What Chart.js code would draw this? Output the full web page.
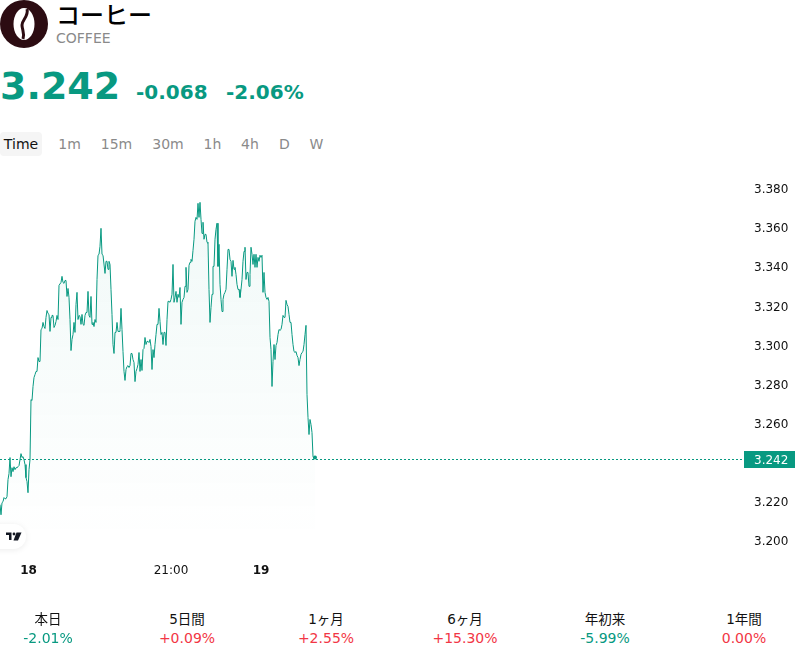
<!DOCTYPE html>
<html><head><meta charset="utf-8">
<script src="https://cdn.jsdelivr.net/npm/chart.js@4"></script>
<style>
html,body{margin:0;padding:0;background:#fff;width:800px;height:658px;overflow:hidden;font-family:"DejaVu Sans","Noto Sans CJK JP",sans-serif;}
.abs{position:absolute;white-space:nowrap}
#tv{position:absolute;left:-14px;top:524px;width:40px;height:25px;border-radius:13px;background:#fff;box-shadow:0 1px 6px rgba(0,0,0,.08);}
.iv{position:absolute;top:136px;font-size:14px;line-height:16px;color:#8a8a8a;transform:translateX(-50%)}
.cell{position:absolute;top:611px;width:130px;text-align:center;transform:translateX(-50%);font-size:13.5px}
.cell .a{color:#111;font-size:13.5px;line-height:17px}
.cell .b{font-size:14px;line-height:20px}
</style></head><body>
<svg class="abs" style="left:0;top:0" width="48" height="48" viewBox="0 0 48 48">
<circle cx="24" cy="24" r="24" fill="#2c0c12"/>
<ellipse cx="24" cy="24" rx="10.5" ry="16" fill="#fff"/>
<path d="M27 9C29 16 22 20 22 25C22 30 25 33 23 39" fill="none" stroke="#2c0c12" stroke-width="3"/>
</svg>
<div class="abs" style="left:56px;top:-3px;font-family:'Noto Sans CJK JP',sans-serif;font-size:24px;line-height:34px;font-weight:500;color:#000">コーヒー</div>
<div class="abs" style="left:56px;top:30px;font-size:14px;line-height:16px;color:#8a8a8a">COFFEE</div>
<div class="abs" style="left:0;top:62px;font-size:38px;line-height:48px;font-weight:700;color:#089981">3.242</div>
<div class="abs" style="left:136px;top:79px;font-size:20px;line-height:26px;font-weight:700;color:#089981">-0.068</div>
<div class="abs" style="left:226px;top:79px;font-size:20px;line-height:26px;font-weight:700;color:#089981">-2.06%</div>
<div class="abs" style="left:0;top:132px;width:42px;height:24px;border-radius:4px;background:#f5f5f5"></div>
<div class="iv" style="left:21px;color:#111">Time</div>
<div class="iv" style="left:69.5px">1m</div>
<div class="iv" style="left:116.5px">15m</div>
<div class="iv" style="left:168px">30m</div>
<div class="iv" style="left:212.5px">1h</div>
<div class="iv" style="left:250px">4h</div>
<div class="iv" style="left:284.5px">D</div>
<div class="iv" style="left:316.5px">W</div>
<canvas id="c" class="abs" style="left:-4px;top:170px;display:block" width="804" height="420"></canvas>
<div id="tv"></div>
<svg class="abs" style="left:0;top:525px" width="26" height="24" viewBox="0 0 26 24"><path d="M6 7.5h5.5v7.5H9V10H6zM16.5 7.5H21.5L18 15.5H13.5z" fill="#131722"/><circle cx="14" cy="9" r="1.4" fill="#131722"/></svg>
<div id="tbl"></div>
<script>
const categoryIndex = Array.from({length:316},(_,i)=>i);
const prices = [
3.2185,3.2133,3.2195,3.2200,3.2221,3.2215,3.2215,3.2226,3.2313,3.2344,3.2426,3.2328,3.2374,3.2354,3.2379,3.2364,3.2374,3.2374,3.2379,3.2385,3.2415,3.2446,3.2426,3.2431,3.2415,3.2390,3.2323,3.2303,3.2246,3.2364,3.2415,3.2723,3.2718,3.2790,
3.2836,3.2851,3.2867,3.2867,3.2938,3.2918,3.2918,3.3082,3.3087,3.3118,3.3097,3.3087,3.3144,3.3179,3.3164,3.3159,3.3072,3.3144,3.3154,3.3154,3.3092,3.3103,3.3123,3.3154,3.3133,3.3308,3.3308,3.3323,3.3354,3.3323,3.3318,3.3333,3.3333,3.3251,3.3292,3.3246,3.3133,3.2974,3.3031,3.3056,3.3118,3.3067,3.3210,3.3272,3.3133,3.3154,3.3149,3.3108,3.3159,3.3108,3.3103,3.3154,3.3169,3.3169,3.3277,3.3154,3.3144,3.3251,3.3108,3.3118,3.3097,3.3133,3.3118,3.3338,3.3462,3.3467,3.3508,3.3600,3.3467,3.3462,3.3462,3.3369,3.3431,3.3431,3.3390,3.3431,3.3415,3.3287,3.3159,3.3005,3.2959,3.3067,3.3067,3.3118,3.3072,3.3072,3.3082,3.3190,3.3082,3.2969,3.2867,3.2821,3.2877,3.2892,3.2897,3.2887,3.2897,3.2959,3.2959,3.2928,3.2913,3.2815,3.2867,3.2882,3.2903,3.2964,3.2867,3.2928,3.2872,3.2979,3.2985,3.3041,3.3005,3.3021,3.3021,3.3015,3.3031,3.2995,3.2877,3.2979,3.2938,3.3005,3.3056,3.3108,3.3108,3.3190,3.3123,3.3056,3.3067,3.3005,3.3067,3.3067,3.3000,3.3133,3.3226,3.3226,
3.3221,3.3236,3.3262,3.3415,3.3221,3.3246,3.3277,3.3221,3.3262,3.3246,3.3297,3.3108,3.3221,3.3236,3.3246,3.3303,3.3400,3.3272,3.3287,3.3410,3.3426,3.3441,3.3431,3.3487,3.3544,3.3636,3.3656,3.3646,3.3728,3.3656,3.3733,3.3646,3.3574,3.3631,3.3544,3.3569,3.3569,3.3528,3.3523,3.3287,3.3118,3.3195,3.3262,3.3405,3.3405,3.3544,3.3595,3.3626,3.3405,3.3518,3.3313,3.3236,3.3174,3.3236,3.3262,3.3272,3.3287,3.3390,3.3492,3.3492,3.3441,3.3431,3.3354,3.3436,3.3390,3.3400,3.3364,3.3313,3.3287,3.3287,3.3246,3.3287,3.3338,3.3431,3.3482,3.3503,3.3338,3.3374,3.3374,3.3303,3.3364,3.3503,3.3467,3.3415,3.3467,3.3400,3.3467,3.3400,3.3451,3.3431,3.3462,3.3451,3.3462,3.3272,3.3374,3.3272,3.3246,3.3236,3.3246,3.3226,3.3041,3.2979,3.2790,3.2918,3.3005,3.2928,3.3000,3.3015,3.3056,3.3082,3.3077,3.3082,3.3108,3.3154,3.3144,3.3144,3.3231,3.3210,3.3200,3.3159,3.3118,3.3118,3.3056,3.3005,3.2969,3.2964,3.2969,3.2949,3.2938,3.2897,3.2928,3.2954,3.2964,3.2969,3.3005,3.3056,3.3103,3.2749,3.2631,3.2544,3.2621,3.2595,3.2554,3.2431,3.2420,3.2426];
const priceTicks = [3.38,3.36,3.34,3.32,3.30,3.28,3.26,3.22,3.20];
const timeTickIndex = [28.5,171,261];
const timeTickLabels = ['18','21:00','19'];
const boldTimeLabels = ['18','19'];
const lastPrice = 3.242;
const periodLabels = ['本日','5日間','1ヶ月','6ヶ月','年初来','1年間'];
const periodValues = ['-2.01%','+0.09%','+2.55%','+15.30%','-5.99%','0.00%'];
const periodCenters = [48,187,326,465,605,744];

const GREEN='#089981', RED='#f23645';
document.getElementById('tbl').innerHTML = periodLabels.map((l,i)=>{
  const v=periodValues[i], col=v[0]==='-'?GREEN:RED;
  return `<div class="cell" style="left:${periodCenters[i]}px"><div class="a">${l}</div><div class="b" style="color:${col}">${v}</div></div>`;
}).join('');

const priceTag = {
  id:'priceTag',
  afterDatasetsDraw(chart){
    const {ctx,scales:{x,y}}=chart, py=Math.round(y.getPixelForValue(lastPrice))+.5;
    ctx.save();
    ctx.strokeStyle=GREEN;ctx.lineWidth=1;ctx.setLineDash([2,2]);
    ctx.beginPath();ctx.moveTo(0,py);ctx.lineTo(x.right-1,py);ctx.stroke();
    ctx.setLineDash([]);
    ctx.fillStyle=GREEN;ctx.fillRect(x.right+1,py-8.5,51,17);
    ctx.fillStyle='#fff';ctx.font='12px "DejaVu Sans"';ctx.textBaseline='middle';ctx.textAlign='left';
    ctx.fillText(lastPrice.toFixed(3),x.right+11,py+1);
    ctx.restore();
  }
};
new Chart(document.getElementById('c'),{
  type:'line',
  data:{datasets:[{
    data:prices.map((p,i)=>({x:categoryIndex[i],y:p})),
    borderColor:GREEN,borderWidth:1,tension:0,
    pointRadius:ctx=>ctx.dataIndex===prices.length-1?2:0,
    pointBackgroundColor:GREEN,pointBorderWidth:0,
    fill:'start',
    backgroundColor(ctx){
      const a=ctx.chart.chartArea; if(!a) return 'transparent';
      const g=ctx.chart.ctx.createLinearGradient(0,30,0,370);
      g.addColorStop(0,'rgba(8,153,129,.06)');g.addColorStop(1,'rgba(8,153,129,0)');
      return g;
    }
  }]},
  plugins:[priceTag],
  options:{
    responsive:false,animation:false,
    layout:{padding:0},
    plugins:{legend:{display:false},tooltip:{enabled:false}},
    scales:{
      x:{type:'linear',min:0,max:743,grid:{display:false},border:{display:false},
        afterBuildTicks(s){s.ticks=timeTickIndex.map(v=>({value:v}));},
        afterFit(s){s.height=32;},
        ticks:{autoSkip:false,maxRotation:0,padding:-2,color:'#111',
          callback:(v)=>timeTickLabels[timeTickIndex.indexOf(v)],
          font:c=>({family:'"DejaVu Sans"',size:12,weight:boldTimeLabels.includes(c.tick&&c.tick.label)?'700':'400'})}},
      y:{position:'right',min:3.19116,max:3.38782,grid:{display:false},border:{display:false},
        afterBuildTicks(s){s.ticks=priceTicks.map(v=>({value:v}));},
        afterFit(s){s.width=57;s.paddingTop=0;s.paddingBottom=0;},
        ticks:{autoSkip:false,padding:3,labelOffset:1,color:'#111',align:'center',crossAlign:'near',
          callback:v=>v.toFixed(3),font:{family:'"DejaVu Sans"',size:12}}}
    }
  }
});
</script>
</body></html>
